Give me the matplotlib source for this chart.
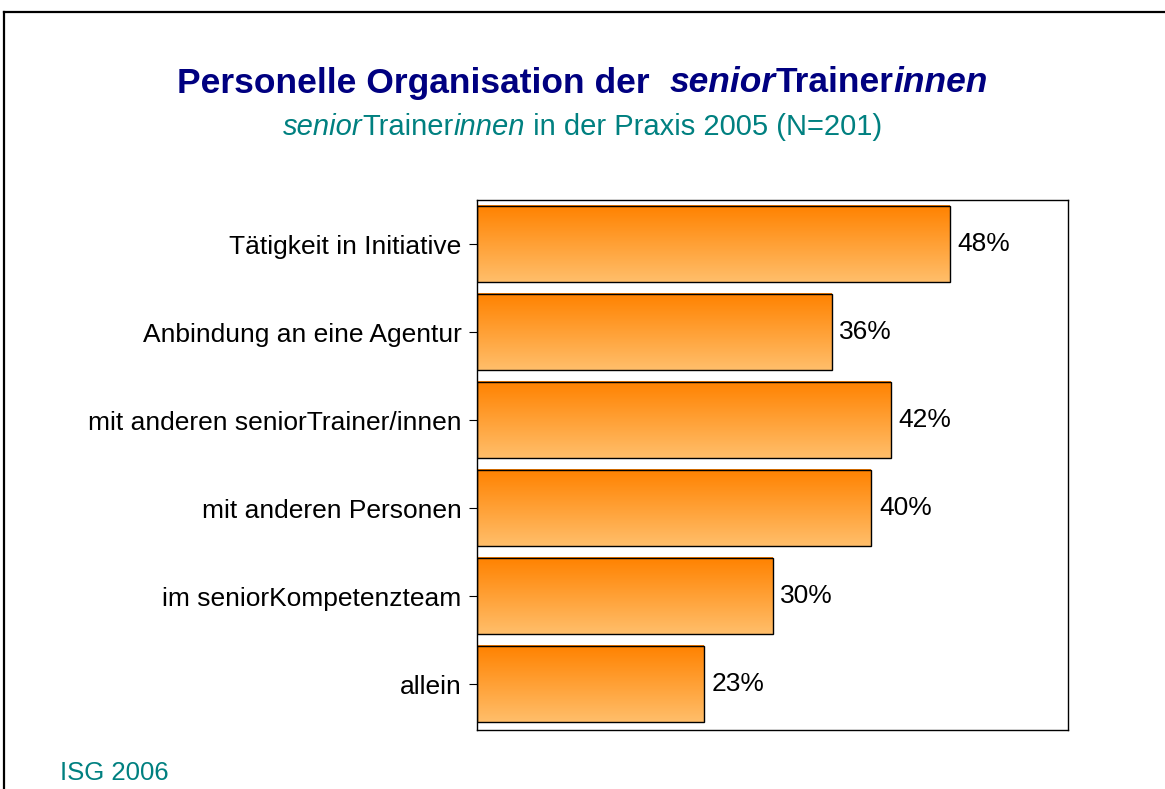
import numpy as np
import matplotlib
matplotlib.use("Agg")
import matplotlib.pyplot as plt
from matplotlib.colors import LinearSegmentedColormap
from matplotlib.lines import Line2D

categories = ["Tätigkeit in Initiative", "Anbindung an eine Agentur",
              "mit anderen seniorTrainer/innen", "mit anderen Personen",
              "im seniorKompetenzteam", "allein"]
values = [48, 36, 42, 40, 30, 23]

title_parts = [("Personelle Organisation der  ", "normal"), ("senior", "italic"),
               ("Trainer", "normal"), ("innen", "italic")]
subtitle_parts = [("senior", "italic"), ("Trainer", "normal"), ("innen", "italic"),
                  (" in der Praxis 2005 (N=201)", "normal")]
footer = "ISG 2006"

plt.rcParams['font.family'] = ['Liberation Sans', 'DejaVu Sans']

W, H = 1165, 789
fig = plt.figure(figsize=(W / 100, H / 100), dpi=100)

# slide frame (top and left edges visible)
fig.add_artist(Line2D([4 / W, 4 / W], [0, 1 - 12 / H], color='black', lw=1.6))
fig.add_artist(Line2D([4 / W, 1], [1 - 12 / H, 1 - 12 / H], color='black', lw=1.6))

ax = fig.add_axes([477 / W, 1 - 730 / H, 591 / W, 530 / H])

cmap = LinearSegmentedColormap.from_list("orange_grad", ["#FF8200", "#FFBE6A"])
grad = np.linspace(0, 1, 100).reshape(-1, 1)
bar_h = 0.864
ypos = np.arange(len(categories))
bars = ax.barh(ypos, values, height=bar_h, color='none', edgecolor='black', lw=1.0, zorder=3)
for b in bars:
    x0, y0 = b.get_x(), b.get_y()
    ax.imshow(grad, cmap=cmap, aspect='auto', interpolation='bicubic',
              extent=[x0, x0 + b.get_width(), y0 + b.get_height(), y0], zorder=2)
ax.set_xlim(0, 60)
ax.set_ylim(5.52, -0.5)

for y, v in zip(ypos, values):
    ax.text(v + 0.8, y, f"{v}%", va='center', ha='left', fontsize=19)

ax.set_yticks(ypos)
ax.set_yticklabels(categories, fontsize=19)
ax.set_xticks([])
ax.tick_params(axis='y', length=6, width=0.8, pad=5)
for s in ax.spines.values():
    s.set_linewidth(1.0)


def draw_parts(parts, y_px, size, color, weight):
    renderer = fig.canvas.get_renderer()
    texts = []
    for s, style in parts:
        t = fig.text(0, 1 - y_px / H, s, fontsize=size, color=color, style=style,
                     weight=weight, va='center', ha='left')
        texts.append(t)
    widths = [t.get_window_extent(renderer).width for t in texts]
    x = (W - sum(widths)) / 2
    for t, w in zip(texts, widths):
        t.set_x(x / W)
        x += w


draw_parts(title_parts, 83, 25.5, '#000080', 'bold')
draw_parts(subtitle_parts, 127, 21, '#008080', 'normal')
fig.text(60 / W, 1 - 773 / H, footer, fontsize=18.5, color='#008080', va='center', ha='left')

fig.savefig("out.png", dpi=100)
